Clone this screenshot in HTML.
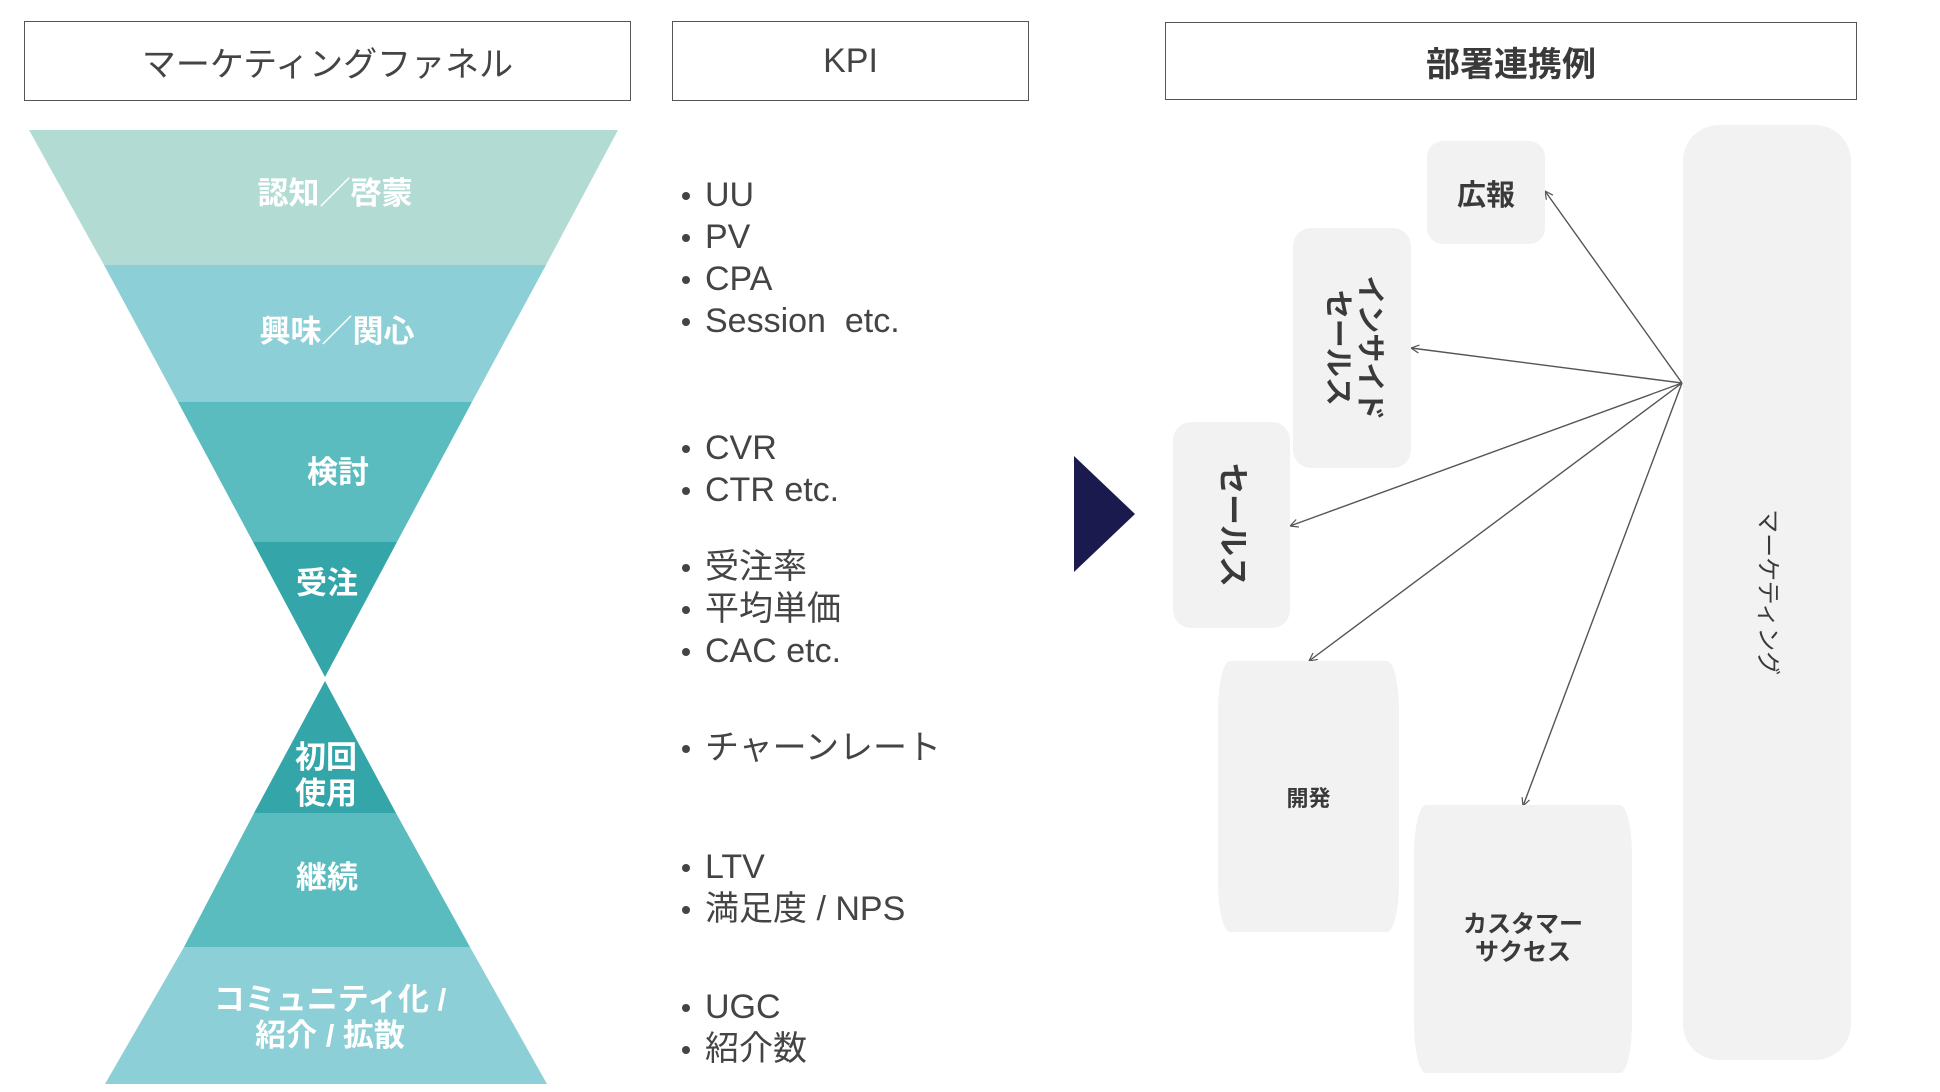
<!DOCTYPE html>
<html><head><meta charset="utf-8"><style>
html,body{margin:0;padding:0;background:#fff;}
body{width:1940px;height:1092px;position:relative;overflow:hidden;font-family:"Liberation Sans","Noto Sans CJK JP",sans-serif;color:#444;}
.hdr{position:absolute;border:1.5px solid #555;box-sizing:border-box;display:flex;align-items:center;justify-content:center;font-size:34px;color:#444;}
.kpi{position:absolute;left:682px;font-size:34px;color:#444;line-height:42px;white-space:nowrap;}
.kpi div{position:relative;padding-left:23px;}
.kpi div:before{content:"";position:absolute;left:0;top:18px;width:8px;height:8px;border-radius:50%;background:#444;}
.box{position:absolute;background:#f2f2f2;display:flex;align-items:center;justify-content:center;color:#3a3a3a;font-weight:bold;text-align:center;}
.rot{transform:rotate(90deg);white-space:nowrap;line-height:1.1;}
.fl{position:absolute;color:#fff;font-weight:bold;font-size:31px;text-align:center;line-height:36px;transform:translate(-50%,-50%);white-space:nowrap;}
</style></head><body>
<div class="hdr" style="left:24px;top:21px;width:607px;height:80px;">マーケティングファネル</div>
<div class="hdr" style="left:672px;top:21px;width:357px;height:80px;">KPI</div>
<div class="hdr" style="left:1165px;top:22px;width:692px;height:78px;font-weight:bold;color:#3a3a3a;">部署連携例</div>

<svg width="1940" height="1092" style="position:absolute;left:0;top:0">
<polygon points="29,130 618,130 546,265 104,265" fill="#b2dbd3"/>
<polygon points="104,265 546,265 472,402 178,402" fill="#8ccfd6"/>
<polygon points="178,402 472,402 397,542 253,542" fill="#5bbcc0"/>
<polygon points="253,542 397,542 325,677" fill="#34a6aa"/>
<polygon points="325,681 396,813 254,813" fill="#34a6aa"/>
<polygon points="254,813 396,813 470,947 184,947" fill="#5bbcc0"/>
<polygon points="184,947 470,947 547,1084 105,1084" fill="#8ccfd6"/>
<polygon points="1074,456 1135,514 1074,572" fill="#1a1a4e"/>
<defs><marker id="a" markerWidth="10" markerHeight="10" refX="9" refY="5" orient="auto" markerUnits="userSpaceOnUse"><path d="M1,1 L9,5 L1,9" fill="none" stroke="#555" stroke-width="1.2"/></marker></defs>
<g stroke="#555" stroke-width="1.4" fill="none">
<line x1="1682" y1="383" x2="1545" y2="191" marker-end="url(#a)"/>
<line x1="1682" y1="383" x2="1411" y2="348" marker-end="url(#a)"/>
<line x1="1682" y1="383" x2="1290" y2="526" marker-end="url(#a)"/>
<line x1="1682" y1="383" x2="1309" y2="661" marker-end="url(#a)"/>
<line x1="1682" y1="383" x2="1523" y2="806" marker-end="url(#a)"/>
</g>
</svg>

<div class="fl" style="left:335px;top:194px;">認知／啓蒙</div>
<div class="fl" style="left:337px;top:332px;">興味／関心</div>
<div class="fl" style="left:338px;top:473px;">検討</div>
<div class="fl" style="left:327px;top:584px;">受注</div>
<div class="fl" style="left:326px;top:776px;">初回<br>使用</div>
<div class="fl" style="left:327px;top:878px;">継続</div>
<div class="fl" style="left:330px;top:1018px;">コミュニティ化 /<br>紹介 / 拡散</div>

<div class="kpi" style="top:174px;"><div>UU</div><div>PV</div><div>CPA</div><div>Session&nbsp;&nbsp;etc.</div></div>
<div class="kpi" style="top:427px;"><div>CVR</div><div>CTR etc.</div></div>
<div class="kpi" style="top:546px;"><div>受注率</div><div>平均単価</div><div>CAC etc.</div></div>
<div class="kpi" style="top:727px;"><div>チャーンレート</div></div>
<div class="kpi" style="top:846px;"><div>LTV</div><div>満足度 / NPS</div></div>
<div class="kpi" style="top:986px;"><div>UGC</div><div>紹介数</div></div>

<div class="box" style="left:1427px;top:141px;width:118px;height:103px;border-radius:16px;font-size:29px;">広報</div>
<div class="box" style="left:1293px;top:228px;width:118px;height:240px;border-radius:18px;font-size:29px;"><div class="rot">インサイド<br>セールス</div></div>
<div class="box" style="left:1173px;top:422px;width:117px;height:206px;border-radius:18px;font-size:31px;"><div class="rot">セールス</div></div>
<div class="box" style="left:1218px;top:661px;width:181px;height:271px;border-radius:12px / 50px;font-size:22px;">開発</div>
<div class="box" style="left:1414px;top:805px;width:218px;height:268px;border-radius:12px / 50px;font-size:24px;line-height:28px;">カスタマー<br>サクセス</div>
<div class="box" style="left:1683px;top:125px;width:168px;height:935px;border-radius:36px;font-size:24px;font-weight:normal;"><div class="rot">マーケティング</div></div>
</body></html>
